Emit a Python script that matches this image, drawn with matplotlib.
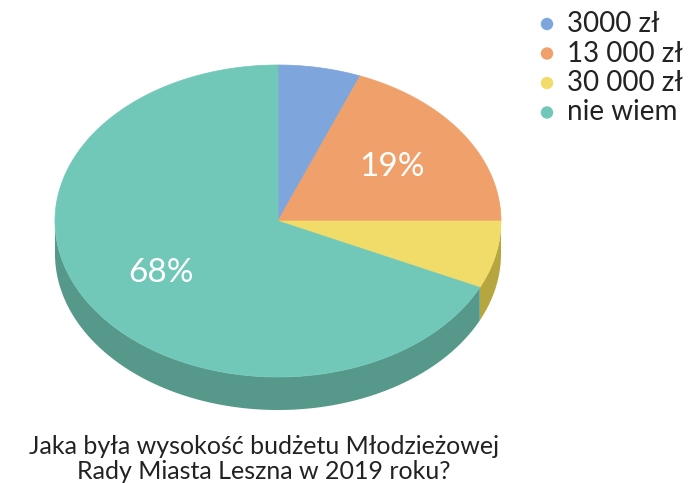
import numpy as np
import matplotlib
matplotlib.use('Agg')
import matplotlib.pyplot as plt
from matplotlib.patches import Polygon

plt.rcParams['font.family'] = ['Lato', 'DejaVu Sans']

labels = ['3000 zł', '13 000 zł', '30 000 zł', 'nie wiem']
shares = [6, 19, 7, 68]
top_colors = ['#7ea6dc', '#f0a06a', '#f1dc6a', '#72c8b8']
side_colors = ['#5f7fae', '#b97a50', '#b6a640', '#56998b']
shown_pct = [False, True, False, True]
title = 'Jaka była wysokość budżetu Młodzieżowej\nRady Miasta Leszna w 2019 roku?'

fig = plt.figure(figsize=(6.98, 4.83), dpi=100)
ax = fig.add_axes([0, 0, 1, 1])
ax.set_xlim(0, 698)
ax.set_ylim(483, 0)
ax.axis('off')

cx, cy = 278, 221     # centre of the top face (pixels)
rx, ry = 223, 156     # ellipse radii
depth = 33

def edge(t):
    # t in degrees, clockwise from 12 o'clock
    r = np.radians(t)
    return cx + rx * np.sin(r), cy - ry * np.cos(r)

bounds = np.concatenate([[0], np.cumsum(shares)]) / sum(shares) * 360

# side walls first (only the front half, 90..270 deg, is visible)
for i in range(len(shares)):
    a0, a1 = max(bounds[i], 90), min(bounds[i + 1], 270)
    if a1 <= a0:
        continue
    t = np.linspace(a0, a1, 200)
    x, y = edge(t)
    pts = np.column_stack([np.r_[x, x[::-1]], np.r_[y, y[::-1] + depth]])
    ax.add_patch(Polygon(pts, closed=True, fc=side_colors[i], ec='none'))

# top face
for i in range(len(shares)):
    t = np.linspace(bounds[i], bounds[i + 1], 300)
    x, y = edge(t)
    pts = np.column_stack([np.r_[cx, x], np.r_[cy, y]])
    ax.add_patch(Polygon(pts, closed=True, fc=top_colors[i], ec=top_colors[i], lw=0.5))
    if shown_pct[i]:
        mid = (bounds[i] + bounds[i + 1]) / 2
        lx, ly = cx + 0.62 * (edge(mid)[0] - cx), cy + 0.62 * (edge(mid)[1] - cy)
        ax.text(lx, ly, '%d%%' % shares[i], color='white', fontsize=24,
                ha='center', va='center')

# legend
for i, lab in enumerate(labels):
    ly = 24 + i * 29.5
    ax.scatter([547], [ly], s=80, color=top_colors[i], edgecolors='none')
    ax.text(567, ly, lab, fontsize=20, va='center', ha='left', color='#222222')

ax.text(264, 459, title, fontsize=18, ha='center', va='center',
        color='#222222', linespacing=1.1)

fig.savefig('out.png', dpi=100)
